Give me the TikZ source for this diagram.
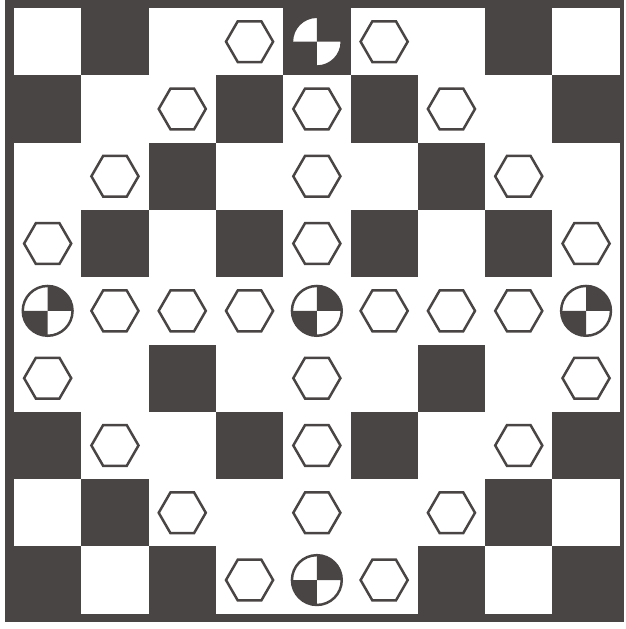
\documentclass[tikz,border=0pt]{standalone}
\usetikzlibrary{shapes.geometric}
\definecolor{boarddark}{RGB}{74,69,69}

\begin{document}
\begin{tikzpicture}[
    darksq/.style={fill=boarddark},
    hexpiece/.style={regular polygon, regular polygon sides=6, draw=boarddark, line width=1.05pt, fill=white, inner sep=0pt, outer sep=0pt, minimum size=0.70cm},
    discpiece/.style={circle, draw=boarddark, line width=1.05pt, fill=white, inner sep=0pt, outer sep=0pt, minimum size=0.74cm}
]
    \useasboundingbox (-0.208,-0.227) rectangle (9.079,9.119);

    % Frame and board
    \fill[darksq] (-0.134,-0.12) rectangle (9.07,9.119);
    \fill[white] (0,0) rectangle (9,9);

    % Dark squares, row by row from the top
    \foreach \c in {1,4,7} \fill[darksq] (\c,8) rectangle ++(1,1);
    \foreach \c in {0,3,5,8} \fill[darksq] (\c,7) rectangle ++(1,1);
    \foreach \c in {2,6} \fill[darksq] (\c,6) rectangle ++(1,1);
    \foreach \c in {1,3,5,7} \fill[darksq] (\c,5) rectangle ++(1,1);
    \foreach \c in {2,6} \fill[darksq] (\c,3) rectangle ++(1,1);
    \foreach \c in {0,3,5,8} \fill[darksq] (\c,2) rectangle ++(1,1);
    \foreach \c in {1,7} \fill[darksq] (\c,1) rectangle ++(1,1);
    \foreach \c in {0,2,6,8} \fill[darksq] (\c,0) rectangle ++(1,1);

    % Hexagons
    \foreach \c in {3,5} \node[hexpiece] (hex-\c-0) at (\c+0.5,8.5) {};
    \foreach \c in {2,4,6} \node[hexpiece] (hex-\c-1) at (\c+0.5,7.5) {};
    \foreach \c in {1,4,7} \node[hexpiece] (hex-\c-2) at (\c+0.5,6.5) {};
    \foreach \c in {0,4,8} \node[hexpiece] (hex-\c-3) at (\c+0.5,5.5) {};
    \foreach \c in {1,2,3,5,6,7} \node[hexpiece] (hex-\c-4) at (\c+0.5,4.5) {};
    \foreach \c in {0,4,8} \node[hexpiece] (hex-\c-5) at (\c+0.5,3.5) {};
    \foreach \c in {1,4,7} \node[hexpiece] (hex-\c-6) at (\c+0.5,2.5) {};
    \foreach \c in {2,4,6} \node[hexpiece] (hex-\c-7) at (\c+0.5,1.5) {};
    \foreach \c in {3,5} \node[hexpiece] (hex-\c-8) at (\c+0.5,0.5) {};

    % Quartered discs
    \node[discpiece] (disctop) at (4.5,8.5) {};
    \node[discpiece] (discleft) at (0.5,4.5) {};
    \node[discpiece] (discmid) at (4.5,4.5) {};
    \node[discpiece] (discright) at (8.5,4.5) {};
    \node[discpiece] (discbottom) at (4.5,0.5) {};
    \foreach \d in {disctop,discleft,discmid,discright,discbottom} {
        \fill[darksq] (\d.center) -- (\d.north) arc[start angle=90, end angle=0, radius=0.37cm] -- cycle;
        \fill[darksq] (\d.center) -- (\d.south) arc[start angle=270, end angle=180, radius=0.37cm] -- cycle;
    }
\end{tikzpicture}
\end{document}
